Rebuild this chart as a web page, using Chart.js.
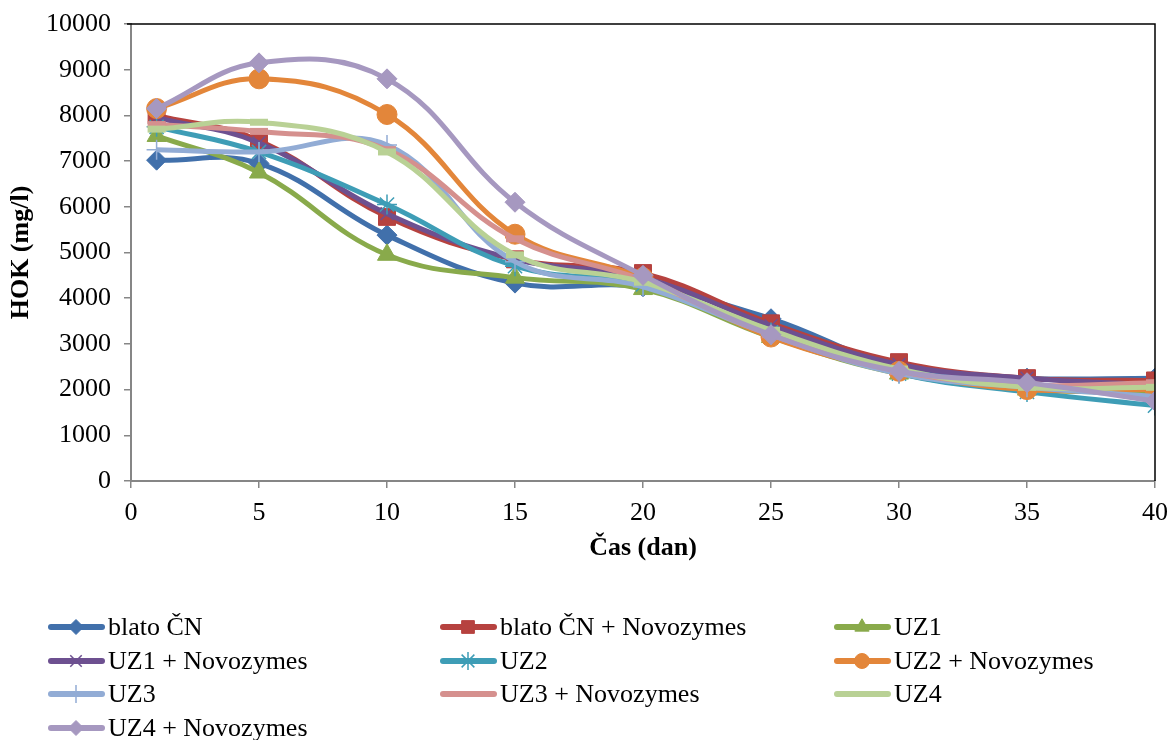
<!DOCTYPE html>
<html>
<head>
<meta charset="utf-8">
<script src="https://cdn.jsdelivr.net/npm/chart.js"></script>
<style>
  html, body { margin: 0; padding: 0; background: #fff; }
  #wrap { width: 1171px; height: 740px; position: relative; }
</style>
</head>
<body>
<div id="wrap"><canvas id="hokChart" width="1171" height="740"></canvas></div>
<script>
// dny odběru
const days = [1, 5, 10, 15, 20, 25, 30, 35, 40];
const xTicks = [0, 5, 10, 15, 20, 25, 30, 35, 40];

// HOK (mg/l) pro jednotlivé vzorky
const blatoCN      = [7020, 6950, 5380, 4330, 4250, 3550, 2500, 2250, 2250];
const blatoCN_N    = [8000, 7450, 5780, 4850, 4550, 3450, 2600, 2250, 2200];
const uz1          = [7550, 6750, 4950, 4450, 4200, 3150, 2350, 2000, 1950];
const uz1_N        = [7950, 7400, 5850, 4850, 4450, 3400, 2550, 2250, 2100];
const uz2          = [7750, 7200, 6050, 4700, 4300, 3250, 2350, 1950, 1650];
const uz2_N        = [8150, 8800, 8020, 5400, 4450, 3150, 2400, 2000, 2000];
const uz3          = [7250, 7200, 7350, 4800, 4250, 3200, 2350, 2050, 1850];
const uz3_N        = [7800, 7650, 7250, 5300, 4400, 3200, 2400, 2100, 2150];
const uz4          = [7700, 7850, 7200, 4950, 4350, 3300, 2450, 2050, 2050];
const uz4_N        = [8150, 9150, 8800, 6100, 4500, 3200, 2400, 2150, 1750];

const seriesNames = ['blato ČN', 'blato ČN + Novozymes', 'UZ1', 'UZ1 + Novozymes', 'UZ2',
  'UZ2 + Novozymes', 'UZ3', 'UZ3 + Novozymes', 'UZ4', 'UZ4 + Novozymes'];
const seriesValues = [blatoCN, blatoCN_N, uz1, uz1_N, uz2, uz2_N, uz3, uz3_N, uz4, uz4_N];

const colors = ['#4170AB', '#B6423F', '#89AA4B', '#6D5090', '#3E9DB6',
  '#E3863A', '#92ACD5', '#D5908E', '#B9D195', '#A698C0'];
const styles = ['rectRot', 'rect', 'triangle', 'crossRot', 'star',
  'circle', 'cross', 'line', 'line', 'rectRot'];
const radii = [10, 12, 11, 9, 10, 10, 10, 9, 9, 10];
const borderW = [1, 1, 1, 1.5, 1.5, 1, 1.5, 7, 7, 1];

const FONT = "'Liberation Serif', 'Times New Roman', serif";

const datasets = seriesNames.map((name, i) => ({
  label: name,
  data: days.map((d, j) => ({ x: d, y: seriesValues[i][j] })),
  borderColor: colors[i],
  backgroundColor: colors[i],
  pointBackgroundColor: colors[i],
  pointBorderColor: colors[i],
  pointStyle: styles[i],
  pointRadius: radii[i],
  pointBorderWidth: borderW[i],
  borderWidth: 5,
  tension: 0.4,
  fill: false,
  order: -i
}));

// rámeček nahoře a vpravo + legenda dole
const framePlugin = {
  id: 'frameAndLegend',
  afterDraw(chart) {
    const ctx = chart.ctx;
    const a = chart.chartArea;
    ctx.save();
    ctx.strokeStyle = '#000';
    ctx.lineWidth = 1.5;
    ctx.beginPath();
    ctx.moveTo(a.left - 4, a.top);
    ctx.lineTo(a.right, a.top);
    ctx.lineTo(a.right, a.bottom);
    ctx.stroke();

    const colX = [48, 440, 834];
    const rowY = [627, 661, 694, 728];
    ctx.font = '26px ' + FONT;
    ctx.textBaseline = 'middle';
    ctx.textAlign = 'left';
    seriesNames.forEach((name, i) => {
      const x = colX[i % 3];
      const y = rowY[Math.floor(i / 3)];
      ctx.strokeStyle = colors[i];
      ctx.fillStyle = colors[i];
      ctx.lineWidth = 6;
      ctx.lineCap = 'round';
      ctx.beginPath();
      ctx.moveTo(x + 3, y);
      ctx.lineTo(x + 54, y);
      ctx.stroke();
      ctx.lineCap = 'butt';
      if (Chart.helpers && Chart.helpers.drawPoint && styles[i] !== 'line') {
        ctx.lineWidth = borderW[i];
        const stroked = ['crossRot', 'star', 'cross'].includes(styles[i]);
        Chart.helpers.drawPoint(ctx, {
          pointStyle: styles[i],
          radius: radii[i] * (stroked ? 0.9 : 0.75),
          borderWidth: borderW[i],
          rotation: 0
        }, x + 28, y);
      }
      ctx.fillStyle = '#000';
      ctx.fillText(name, x + 60, y + 1);
    });
    ctx.restore();
  }
};

new Chart(document.getElementById('hokChart'), {
  type: 'line',
  data: { datasets: datasets },
  options: {
    responsive: false,
    animation: false,
    events: [],
    layout: { padding: { top: 24, right: 13, bottom: 172, left: 0 } },
    plugins: {
      legend: { display: false },
      tooltip: { enabled: false }
    },
    scales: {
      x: {
        type: 'linear',
        min: 0,
        max: 40,
        afterBuildTicks: (scale) => { scale.ticks = xTicks.map(v => ({ value: v })); },
        afterFit: (scale) => { scale.height = 87; scale.paddingRight = 0; scale.paddingLeft = 0; },
        grid: { display: true, drawOnChartArea: false, drawTicks: true, tickLength: 7, color: '#868686', lineWidth: 1.5 },
        border: { display: true, color: '#868686', width: 2 },
        ticks: { color: '#000', font: { family: FONT, size: 26 }, padding: 10, maxRotation: 0 },
        title: { display: true, text: 'Čas (dan)', color: '#000', font: { family: FONT, size: 26, weight: 'bold' } }
      },
      y: {
        min: 0,
        max: 10000,
        afterFit: (scale) => { scale.width = 131; scale.paddingTop = 0; },
        grid: { display: true, drawOnChartArea: false, drawTicks: true, tickLength: 7, color: '#868686', lineWidth: 1.5 },
        border: { display: true, color: '#868686', width: 2 },
        ticks: { stepSize: 1000, color: '#000', font: { family: FONT, size: 26 }, padding: 13,
          callback: (v) => String(v) },
        title: { display: true, text: 'HOK (mg/l)', color: '#000', padding: { top: 6, bottom: 4 }, font: { family: FONT, size: 26, weight: 'bold' } }
      }
    }
  },
  plugins: [framePlugin]
});
</script>
</body>
</html>
